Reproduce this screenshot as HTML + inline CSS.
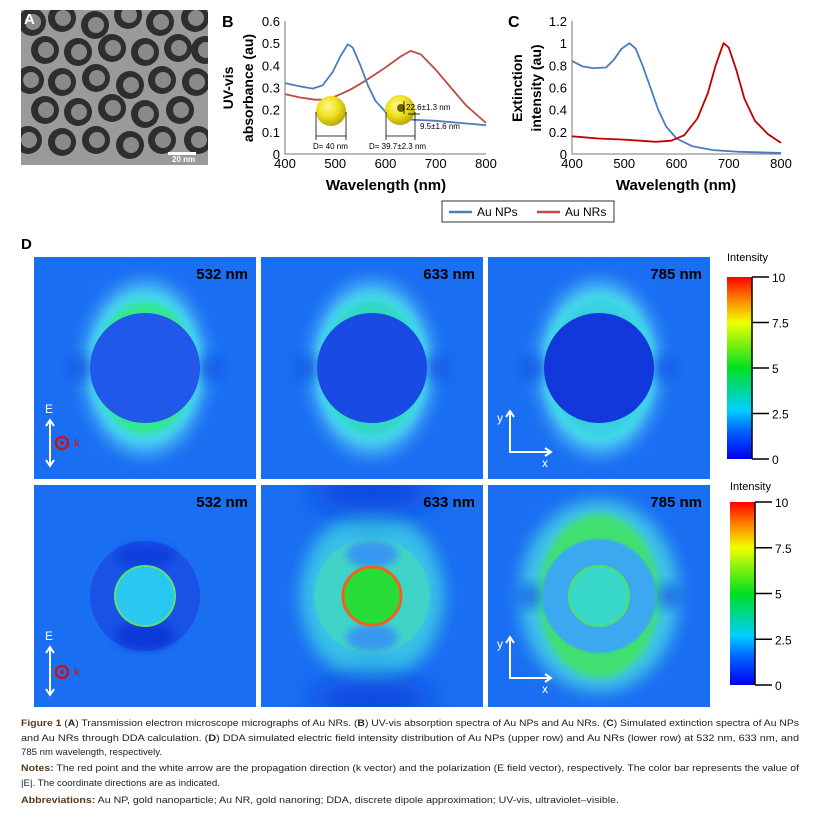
<!DOCTYPE html>
<html><head><meta charset="utf-8"><style>
html,body{margin:0;padding:0;background:#fff;}
svg{display:block;font-family:"Liberation Sans",sans-serif;}
</style></head><body>
<svg id="fig" width="819" height="813" viewBox="0 0 819 813" xmlns="http://www.w3.org/2000/svg">
<defs>
<filter id="b3" x="-50%" y="-50%" width="200%" height="200%"><feGaussianBlur stdDeviation="3"/></filter>
<filter id="b4" x="-50%" y="-50%" width="200%" height="200%"><feGaussianBlur stdDeviation="4"/></filter>
<filter id="b8" x="-50%" y="-50%" width="200%" height="200%"><feGaussianBlur stdDeviation="8"/></filter>
<filter id="b14" x="-50%" y="-50%" width="200%" height="200%"><feGaussianBlur stdDeviation="14"/></filter>
<filter id="b1"><feGaussianBlur stdDeviation="1"/></filter>
<linearGradient id="jet" x1="0" y1="1" x2="0" y2="0">
<stop offset="0" stop-color="#0000f0"/><stop offset="0.15" stop-color="#0060ff"/><stop offset="0.27" stop-color="#00d0ff"/><stop offset="0.5" stop-color="#00e020"/><stop offset="0.75" stop-color="#f0ff00"/><stop offset="0.88" stop-color="#ff8000"/><stop offset="1" stop-color="#ff0000"/>
</linearGradient>
<clipPath id="temclip"><rect x="21" y="10" width="187" height="155"/></clipPath>
<radialGradient id="sph" cx="0.4" cy="0.35" r="0.7"><stop offset="0" stop-color="#fff890"/><stop offset="0.5" stop-color="#f0e020"/><stop offset="1" stop-color="#b0a000"/></radialGradient>
</defs>

<g clip-path="url(#temclip)">
<rect x="21" y="10" width="187" height="155" fill="#9a9a9a"/>
<g id="rings"></g>
<rect x="168" y="152" width="28" height="3" fill="#fff"/>
<text x="172" y="162" font-size="8" fill="#fff" font-weight="bold">20 nm</text>
</g>
<text x="24" y="24" font-size="15" font-weight="bold" fill="#fff">A</text>

<text x="222" y="27" font-size="16" font-weight="bold">B</text>
<g id="chartB"></g>
<text transform="translate(233,88) rotate(-90)" text-anchor="middle" font-size="14" font-weight="bold">UV-vis</text>
<text transform="translate(253,88) rotate(-90)" text-anchor="middle" font-size="14" font-weight="bold">absorbance (au)</text>
<text x="386" y="190" text-anchor="middle" font-size="15" font-weight="bold">Wavelength (nm)</text>
<g>
<circle cx="331" cy="111" r="15" fill="url(#sph)"/>
<line x1="316" y1="112" x2="316" y2="140" stroke="#000" stroke-width="0.8"/><line x1="346" y1="112" x2="346" y2="140" stroke="#000" stroke-width="0.8"/>
<line x1="316" y1="136" x2="346" y2="136" stroke="#000" stroke-width="0.8"/>
<text x="313" y="149" font-size="8">D= 40 nm</text>
</g>
<g>
<circle cx="400" cy="110" r="15" fill="url(#sph)"/>
<circle cx="401" cy="108" r="4" fill="#706000"/>
<line x1="386" y1="112" x2="386" y2="140" stroke="#000" stroke-width="0.8"/><line x1="415" y1="112" x2="415" y2="140" stroke="#000" stroke-width="0.8"/>
<line x1="386" y1="136" x2="415" y2="136" stroke="#000" stroke-width="0.8"/>
<line x1="404" y1="101" x2="404" y2="114" stroke="#000" stroke-width="0.8"/>
<text x="406" y="110" font-size="8">22.6±1.3 nm</text>
<line x1="408" y1="114" x2="420" y2="114" stroke="#000" stroke-width="0.8"/>
<text x="420" y="129" font-size="8">9.5±1.6 nm</text>
<text x="369" y="149" font-size="8">D= 39.7±2.3 nm</text>
</g>

<text x="508" y="27" font-size="16" font-weight="bold">C</text>
<g id="chartC"></g>
<text transform="translate(522,88) rotate(-90)" text-anchor="middle" font-size="14" font-weight="bold">Extinction</text>
<text transform="translate(541,88) rotate(-90)" text-anchor="middle" font-size="14" font-weight="bold">intensity (au)</text>
<text x="676" y="190" text-anchor="middle" font-size="15" font-weight="bold">Wavelength (nm)</text>

<g>
<rect x="442" y="201" width="172" height="21" fill="#fff" stroke="#000" stroke-width="0.8"/>
<line x1="449" y1="212" x2="472" y2="212" stroke="#4a7ebb" stroke-width="2.5"/>
<text x="477" y="216" font-size="12">Au NPs</text>
<line x1="537" y1="212" x2="560" y2="212" stroke="#be4b48" stroke-width="2.5"/>
<text x="565" y="216" font-size="12">Au NRs</text>
</g>

<text x="21" y="249" font-size="15" font-weight="bold">D</text>
<g id="maps"></g>
<g id="cbars"></g>

<g font-size="9.5" fill="#222">
<text x="21" y="726" textLength="778" lengthAdjust="spacingAndGlyphs"><tspan font-weight="bold" fill="#5a3a1a">Figure 1</tspan> (<tspan font-weight="bold">A</tspan>) Transmission electron microscope micrographs of Au NRs. (<tspan font-weight="bold">B</tspan>) UV-vis absorption spectra of Au NPs and Au NRs. (<tspan font-weight="bold">C</tspan>) Simulated extinction spectra of Au NPs</text>
<text x="21" y="741" textLength="778" lengthAdjust="spacingAndGlyphs">and Au NRs through DDA calculation. (<tspan font-weight="bold">D</tspan>) DDA simulated electric field intensity distribution of Au NPs (upper row) and Au NRs (lower row) at 532 nm, 633 nm, and</text>
<text x="21" y="755" textLength="141" lengthAdjust="spacingAndGlyphs">785 nm wavelength, respectively.</text>
<text x="21" y="771" textLength="778" lengthAdjust="spacingAndGlyphs"><tspan font-weight="bold" fill="#5a3a1a">Notes:</tspan> The red point and the white arrow are the propagation direction (k vector) and the polarization (E field vector), respectively. The color bar represents the value of</text>
<text x="21" y="786" textLength="199" lengthAdjust="spacingAndGlyphs">|E|. The coordinate directions are as indicated.</text>
<text x="21" y="803" textLength="598" lengthAdjust="spacingAndGlyphs"><tspan font-weight="bold" fill="#5a3a1a">Abbreviations:</tspan> Au NP, gold nanoparticle; Au NR, gold nanoring; DDA, discrete dipole approximation; UV-vis, ultraviolet–visible.</text>
</g>
</svg>
<script>
const wlB_np = [400,430,455,475,495,510,525,535,550,565,580,600,620,650,700,750,800];
const absB_np = [0.32,0.305,0.295,0.31,0.37,0.44,0.495,0.48,0.40,0.31,0.24,0.19,0.165,0.155,0.15,0.14,0.13];
const wlB_nr = [400,430,460,480,500,530,560,600,630,650,670,700,730,760,800];
const absB_nr = [0.27,0.255,0.245,0.245,0.26,0.29,0.33,0.39,0.44,0.465,0.45,0.38,0.30,0.22,0.14];
const wlC_np = [400,420,440,465,480,495,510,522,535,550,565,580,600,630,670,720,800];
const extC_np = [0.84,0.79,0.775,0.78,0.85,0.95,1.0,0.95,0.80,0.60,0.40,0.25,0.14,0.07,0.035,0.02,0.01];
const wlC_nr = [400,450,500,530,560,590,615,640,660,675,690,700,715,730,750,775,800];
const extC_nr = [0.16,0.14,0.13,0.12,0.11,0.12,0.17,0.32,0.55,0.80,1.0,0.96,0.75,0.50,0.30,0.18,0.10];
const xTicks = [400,500,600,700,800];
const yTicksB = [0,0.1,0.2,0.3,0.4,0.5,0.6];
const yTickLabelsB = ["0","0.1","0.2","0.3","0.4","0.5","0.6"];
const yTicksC = [0,0.2,0.4,0.6,0.8,1.0,1.2];
const yTickLabelsC = ["0","0.2","0.4","0.6","0.8","1","1.2"];
const cbTicks = [0,2.5,5,7.5,10];
const cbTickLabels = ["0","2.5","5","7.5","10"];

const NS="http://www.w3.org/2000/svg";
function mk(tag,attrs,parent){const e=document.createElementNS(NS,tag);for(const k in attrs)e.setAttribute(k,attrs[k]);if(parent)parent.appendChild(e);return e;}

function drawChart(g,box,ymax,yTicks,yLabels,series){
  const xs=v=>box.x0+(v-400)/400*(box.x1-box.x0);
  const ys=v=>box.y1-(v/ymax)*(box.y1-box.y0);
  const ax=mk('path',{d:`M${box.x0} ${box.y0}V${box.y1}H${box.x1}`,fill:'none',stroke:'#777','stroke-width':1},g);
  
  
  yTicks.forEach((t,i)=>{
    const tx=mk('text',{x:box.x0-5,y:ys(t)+5,'text-anchor':'end','font-size':13},g);
    
    
    tx.textContent=yLabels[i];
  });
  xTicks.forEach(t=>{
    const tx=mk('text',{x:xs(t),y:box.y1+14,'text-anchor':'middle','font-size':13},g);
    
    
    tx.textContent=t;
  });
  series.forEach(s=>{
    let d='';s.x.forEach((v,i)=>{d+=(i?'L':'M')+xs(v).toFixed(1)+' '+ys(s.y[i]).toFixed(1);});
    const p=mk('path',{d:d,fill:'none',stroke:s.c,'stroke-width':1.8,'stroke-linejoin':'round'},g);
    
    
  });
}
drawChart(document.getElementById('chartB'),{x0:285,x1:486,y0:21,y1:154},0.6,yTicksB,yTickLabelsB,
 [{x:wlB_nr,y:absB_nr,c:'#be4b48',n:'au-nrs-line'},{x:wlB_np,y:absB_np,c:'#4a7ebb',n:'au-nps-line'}]);
drawChart(document.getElementById('chartC'),{x0:572,x1:781,y0:21,y1:154},1.2,yTicksC,yTickLabelsC,
 [{x:wlC_np,y:extC_np,c:'#4a7ebb',n:'au-nps-line'},{x:wlC_nr,y:extC_nr,c:'#c00000',n:'au-nrs-line'}]);

const rg=document.getElementById('rings');
const ringPos=[[32,22],[62,18],[95,25],[128,15],[160,22],[195,18],[45,50],[78,52],[112,48],[145,52],[178,48],[205,50],[30,80],[62,82],[96,78],[130,85],[162,80],[196,82],[45,110],[78,112],[112,108],[145,114],[180,110],[28,140],[62,142],[96,140],[130,145],[162,140],[198,140]];
ringPos.forEach(p=>{
  const c=mk('circle',{cx:p[0],cy:p[1],r:14,fill:'#2e2e2e'},rg);
  
  
  mk('circle',{cx:p[0]+1,cy:p[1],r:8,fill:'#8a8a8a'},rg);
});

const maps=document.getElementById('maps');
const cols=[34,261,488], rows=[257,485], W=222, H=222;
const wls=["532 nm","633 nm","785 nm"];
function panel(ci,ri){
  const x=cols[ci],y=rows[ri],cx=x+111,cy=y+111;
  const g=mk('g',{},maps);
  
  
  mk('clipPath',{id:'cp'+ci+ri},g).appendChild(mk('rect',{x:x,y:y,width:W,height:H}));
  const inner=mk('g',{'clip-path':`url(#cp${ci}${ri})`},g);
  mk('rect',{x:x,y:y,width:W,height:H,fill:'#1a6ef2'},inner);
  if(ri===0){
    const glow=['#30e890','#30d8c0','#38d0e0'][ci];
    mk('ellipse',{cx:cx,cy:cy,rx:62,ry:88,fill:'#48b8f6',filter:'url(#b8)'},inner);
    mk('ellipse',{cx:cx,cy:cy,rx:56,ry:76,fill:'#40d8e8',filter:'url(#b4)'},inner);
    mk('ellipse',{cx:cx,cy:cy,rx:48,ry:66,fill:glow,filter:'url(#b3)'},inner);
    mk('circle',{cx:cx-64,cy:cy,r:10,fill:'#0a48e0',filter:'url(#b8)'},inner);
    mk('circle',{cx:cx+64,cy:cy,r:10,fill:'#0a48e0',filter:'url(#b8)'},inner);
    mk('circle',{cx:cx,cy:cy,r:55,fill:['#2258ea','#1a4ae4','#1238dc'][ci]},inner);
  } else if(ci===0){
    mk('circle',{cx:cx,cy:cy,r:55,fill:'#1a52e6'},inner);
    mk('ellipse',{cx:cx,cy:cy+40,rx:30,ry:14,fill:'#0e38d8',filter:'url(#b4)'},inner);
    mk('ellipse',{cx:cx,cy:cy-40,rx:30,ry:12,fill:'#1040dc',filter:'url(#b4)'},inner);
    mk('circle',{cx:cx,cy:cy,r:30,fill:'#28c8f0',stroke:'#60e070','stroke-width':2},inner);
  } else if(ci===1){
    mk('ellipse',{cx:cx,cy:cy,rx:72,ry:86,fill:'#38c0e8',filter:'url(#b8)'},inner);
    mk('ellipse',{cx:cx,cy:cy-105,rx:60,ry:25,fill:'#0c4ae0',filter:'url(#b14)'},inner);
    mk('ellipse',{cx:cx,cy:cy+105,rx:60,ry:25,fill:'#0c4ae0',filter:'url(#b14)'},inner);
    mk('circle',{cx:cx,cy:cy,r:58,fill:'#40d4c8',filter:'url(#b1)'},inner);
    mk('ellipse',{cx:cx,cy:cy-42,rx:26,ry:14,fill:'#3898f0',filter:'url(#b4)'},inner);
    mk('ellipse',{cx:cx,cy:cy+42,rx:26,ry:14,fill:'#3898f0',filter:'url(#b4)'},inner);
    mk('circle',{cx:cx,cy:cy,r:29,fill:'#28dc38',stroke:'#f06020','stroke-width':3},inner);
  } else {
    mk('ellipse',{cx:cx,cy:cy,rx:80,ry:96,fill:'#40c4e8',filter:'url(#b8)'},inner);
    mk('ellipse',{cx:cx,cy:cy,rx:60,ry:82,fill:'#40e070',filter:'url(#b4)'},inner);
    mk('circle',{cx:cx-70,cy:cy,r:10,fill:'#0a48e0',filter:'url(#b8)'},inner);
    mk('circle',{cx:cx+70,cy:cy,r:10,fill:'#0a48e0',filter:'url(#b8)'},inner);
    mk('circle',{cx:cx,cy:cy,r:57,fill:'#3aa8f0',filter:'url(#b1)'},inner);
    mk('circle',{cx:cx,cy:cy,r:30,fill:'#38d8c8',stroke:'#50e060','stroke-width':2},inner);
  }
  const t=mk('text',{x:x+W-8,y:y+22,'text-anchor':'end','font-size':15,'font-weight':'bold',fill:'#000'},g);
  
  
  t.textContent=wls[ci];
  if(ci===0){
    const ay=ri?[647,695,640,672]:[420,466,413,443];
    mk('path',{d:`M50 ${ay[0]}V${ay[1]}M46 ${ay[0]+6}L50 ${ay[0]}L54 ${ay[0]+6}M46 ${ay[1]-6}L50 ${ay[1]}L54 ${ay[1]-6}`,stroke:'#fff','stroke-width':2,fill:'none'},g);
    const e=mk('text',{x:45,y:ay[2],'font-size':12,fill:'#fff'},g);e.textContent='E';
    mk('circle',{cx:62,cy:ay[3],r:6,fill:'none',stroke:'#c01818','stroke-width':2.5},g);
    mk('circle',{cx:62,cy:ay[3],r:2,fill:'#c01818'},g);
    const k=mk('text',{x:74,y:ay[3]+4,'font-size':12,fill:'#c01818'},g);k.textContent='k';
  }
  if(ci===2){
    const by=ri?[637,678]:[411,452];
    mk('path',{d:`M510 ${by[0]}V${by[1]}H551M506 ${by[0]+6}L510 ${by[0]}L514 ${by[0]+6}M545 ${by[1]-4}L551 ${by[1]}L545 ${by[1]+4}`,stroke:'#fff','stroke-width':2,fill:'none'},g);
    const yy=mk('text',{x:497,y:by[0]+11,'font-size':12,fill:'#fff'},g);yy.textContent='y';
    const xx=mk('text',{x:542,y:by[1]+15,'font-size':12,fill:'#fff'},g);xx.textContent='x';
  }
}
for(let r=0;r<2;r++)for(let c=0;c<3;c++)panel(c,r);

const cb=document.getElementById('cbars');
[[727,277,459,261],[730,502,685,490]].forEach((b,i)=>{
  const g=mk('g',{},cb);
  
  
  const lab=mk('text',{x:b[0],y:b[3],'font-size':11},g);lab.textContent='Intensity';
  mk('rect',{x:b[0],y:b[1],width:25,height:b[2]-b[1],fill:'url(#jet)'},g);
  mk('line',{x1:b[0]+25,y1:b[1],x2:b[0]+25,y2:b[2],stroke:'#000','stroke-width':1.5},g);
  const sy=v=>b[2]-v/10*(b[2]-b[1]);
  cbTicks.forEach((t,j)=>{
    mk('line',{x1:b[0]+25,y1:sy(t),x2:b[0]+42,y2:sy(t),stroke:'#000','stroke-width':1.5},g);
    const tx=mk('text',{x:b[0]+45,y:sy(t)+5,'font-size':12},g);
    
    
    tx.textContent=cbTickLabels[j];
  });
});
</script>
</body></html>
